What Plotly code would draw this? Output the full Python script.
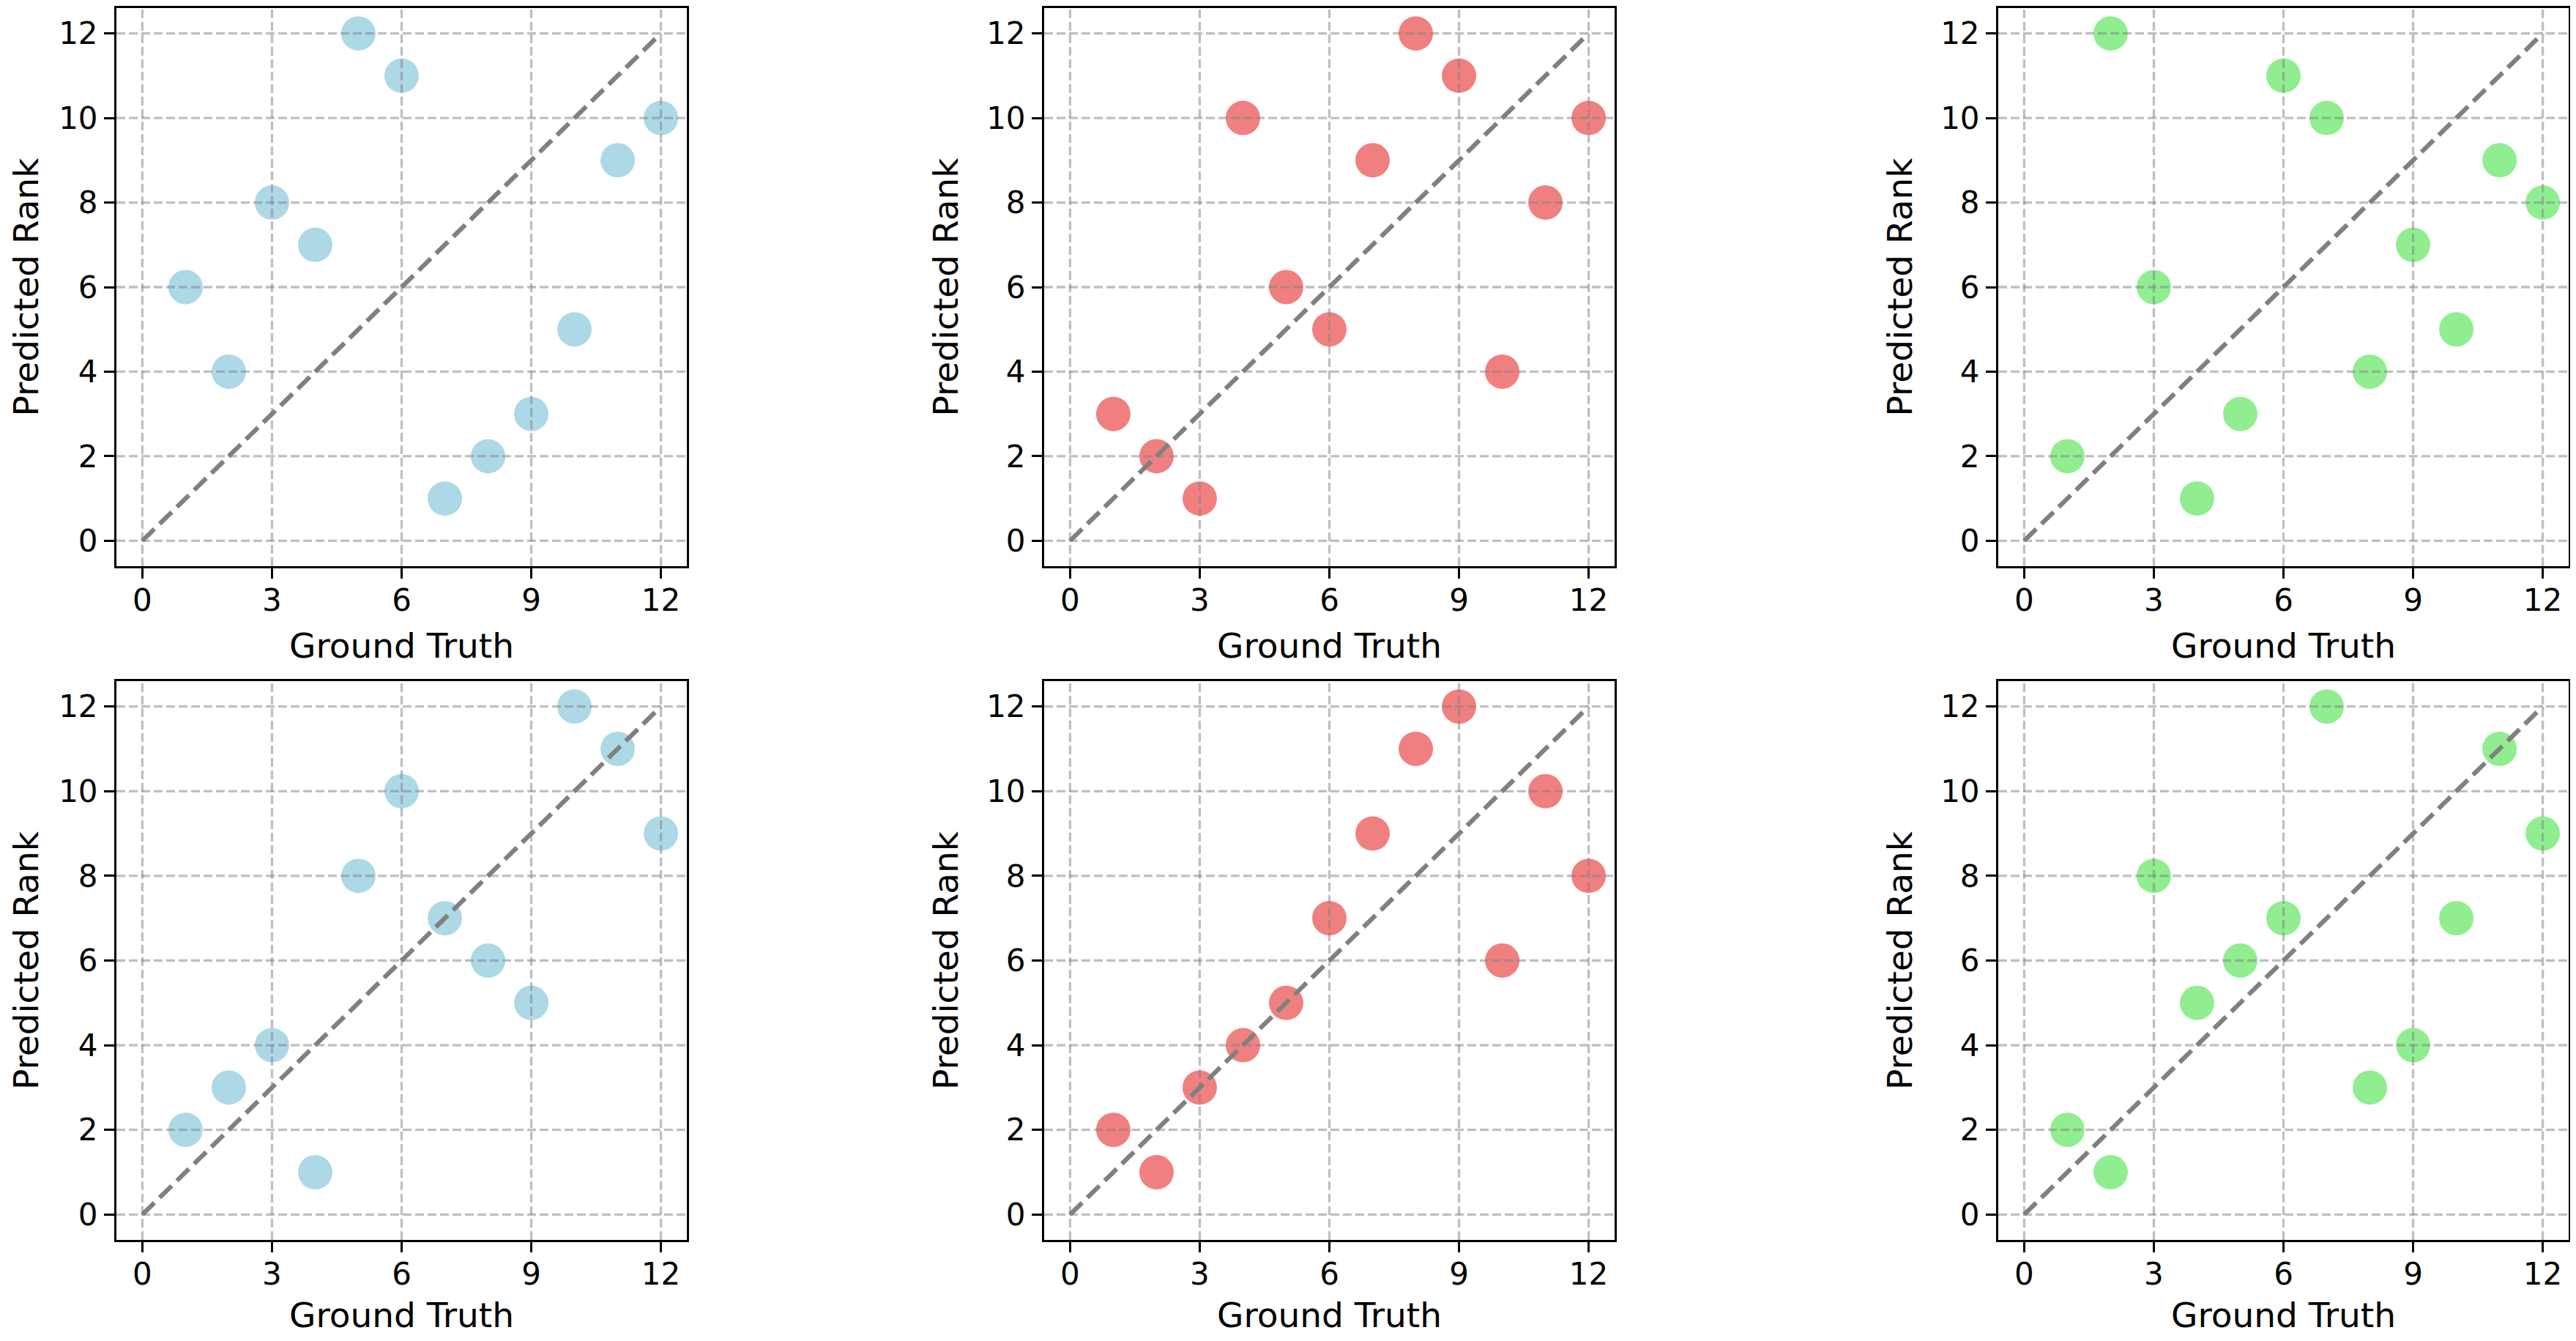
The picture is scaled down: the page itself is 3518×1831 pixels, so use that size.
import plotly.graph_objects as go

# ground-truth ranks shared by all panels
ground_truth = [1, 2, 3, 4, 5, 6, 7, 8, 9, 10, 11, 12]

# predicted ranks, top row then bottom row
pred_top_left = [6, 4, 8, 7, 12, 11, 1, 2, 3, 5, 9, 10]
pred_top_mid = [3, 2, 1, 10, 6, 5, 9, 12, 11, 4, 8, 10]
pred_top_right = [2, 12, 6, 1, 3, 11, 10, 4, 7, 5, 9, 8]
pred_bot_left = [2, 3, 4, 1, 8, 10, 7, 6, 5, 12, 11, 9]
pred_bot_mid = [2, 1, 3, 4, 5, 7, 9, 11, 12, 6, 10, 8]
pred_bot_right = [2, 1, 8, 5, 6, 7, 12, 3, 4, 7, 11, 9]

x_ticks = [0, 3, 6, 9, 12]
y_ticks = [0, 2, 4, 6, 8, 10, 12]
axis_range = [-0.6, 12.6]

panel_colors = ["#ADD8E6", "#F08080", "#90EE90"]

panels = [
    (pred_top_left, 0, 0),
    (pred_top_mid, 0, 1),
    (pred_top_right, 0, 2),
    (pred_bot_left, 1, 0),
    (pred_bot_mid, 1, 1),
    (pred_bot_right, 1, 2),
]

# page body has an 8px margin, so the figure is a bit smaller than the window
PAD = 8
W, H = 3518 - 2 * PAD, 1831 - 2 * PAD
col_px = [(159, 938), (1426, 2205), (2729, 3508)]
row_px = [(11, 773), (930, 1693)]

FONT = "DejaVu Sans"
TICK_SIZE = 42
LABEL_SIZE = 47

fig = go.Figure()
layout = {}

for i, (pred, r, c) in enumerate(panels):
    n = "" if i == 0 else str(i + 1)
    xa, ya = "x" + n, "y" + n

    # scatter points (bottom layer)
    fig.add_trace(go.Scatter(
        x=ground_truth, y=pred, mode="markers",
        marker=dict(size=47, color=panel_colors[c], line=dict(width=0)),
        xaxis=xa, yaxis=ya, showlegend=False, hoverinfo="x+y",
    ))

    # matplotlib draws the grid above scatter collections
    gx, gy = [], []
    for t in x_ticks:
        gx += [t, t, None]
        gy += [axis_range[0], axis_range[1], None]
    for t in y_ticks:
        gx += [axis_range[0], axis_range[1], None]
        gy += [t, t, None]
    fig.add_trace(go.Scatter(
        x=gx, y=gy, mode="lines",
        line=dict(color="rgba(128,128,128,0.5)", width=3.3, dash="12px,5px"),
        xaxis=xa, yaxis=ya, showlegend=False, hoverinfo="skip",
    ))

    # perfect-ranking diagonal
    lo, hi = 0, max(ground_truth)
    fig.add_trace(go.Scatter(
        x=[lo, hi], y=[lo, hi], mode="lines",
        line=dict(color="#808080", width=6.2, dash="23px,10px"),
        xaxis=xa, yaxis=ya, showlegend=False, hoverinfo="skip",
    ))

    x0, x1 = col_px[c]
    y0, y1 = row_px[r]
    common = dict(
        range=axis_range, showgrid=False, zeroline=False,
        showline=True, linecolor="black", linewidth=3, mirror=True,
        ticks="outside", ticklen=14, tickwidth=3, tickcolor="black",
        tickfont=dict(family=FONT, size=TICK_SIZE, color="black"),
        layer="above traces",
    )
    layout["xaxis" + n] = dict(
        common, domain=[(x0 - PAD) / W, (x1 - PAD) / W], anchor=ya,
        tickvals=x_ticks, ticklabelstandoff=-6,
        title=dict(text="Ground Truth", standoff=22,
                   font=dict(family=FONT, size=LABEL_SIZE, color="black")),
    )
    layout["yaxis" + n] = dict(
        common, domain=[1 - (y1 - PAD) / H, 1 - (y0 - PAD) / H], anchor=xa,
        tickvals=y_ticks,
        title=dict(text="Predicted Rank", standoff=24,
                   font=dict(family=FONT, size=LABEL_SIZE, color="black")),
    )

fig.update_layout(
    width=W, height=H,
    margin=dict(l=0, r=0, t=0, b=0),
    plot_bgcolor="white", paper_bgcolor="white",
    font=dict(family=FONT, color="black"),
    **layout,
)

fig.write_html("out.html")
